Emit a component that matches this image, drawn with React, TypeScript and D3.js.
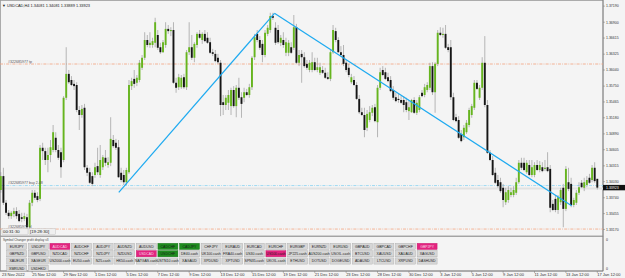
import React from "react";
import * as d3 from "d3";

// OHLC, one per H4 bar (23 Nov 2022 12:00 .. 17 Jan 2023)
const candles: [number, number, number, number][] = [
  [1.3388,1.3420,1.3383,1.3413],[1.3413,1.3428,1.3361,1.3365],[1.3365,1.3370,1.3343,1.3347],[1.3347,1.3352,1.3336,1.3341],
  [1.3341,1.3350,1.3336,1.3347],[1.3345,1.3356,1.3339,1.3350],[1.3350,1.3357,1.3336,1.3341],[1.3345,1.3352,1.3330,1.3332],
  [1.3339,1.3347,1.3330,1.3336],[1.3336,1.3347,1.3332,1.3341],[1.3339,1.3345,1.3318,1.3321],[1.3321,1.3370,1.3318,1.3365],
  [1.3365,1.3388,1.3359,1.3383],[1.3383,1.3388,1.3370,1.3374],[1.3377,1.3384,1.3366,1.3370],[1.3372,1.3469,1.3368,1.3464],
  [1.3464,1.3473,1.3442,1.3458],[1.3458,1.3464,1.3433,1.3442],[1.3442,1.3464,1.3420,1.3451],[1.3451,1.3478,1.3438,1.3465],
  [1.3460,1.3505,1.3456,1.3492],[1.3482,1.3492,1.3456,1.3460],[1.3460,1.3469,1.3442,1.3446],[1.3456,1.3464,1.3410,1.3429],
  [1.3442,1.3557,1.3438,1.3554],[1.3554,1.3645,1.3550,1.3597],[1.3597,1.3604,1.3579,1.3582],[1.3586,1.3593,1.3575,1.3577],
  [1.3579,1.3586,1.3568,1.3575],[1.3577,1.3582,1.3528,1.3532],[1.3532,1.3539,1.3496,1.3523],[1.3523,1.3541,1.3518,1.3534],
  [1.3536,1.3543,1.3424,1.3429],[1.3428,1.3433,1.3413,1.3419],[1.3420,1.3428,1.3399,1.3401],[1.3413,1.3420,1.3395,1.3399],
  [1.3415,1.3437,1.3410,1.3429],[1.3431,1.3464,1.3415,1.3420],[1.3415,1.3469,1.3410,1.3442],[1.3429,1.3451,1.3424,1.3447],
  [1.3446,1.3460,1.3431,1.3437],[1.3433,1.3447,1.3428,1.3438],[1.3437,1.3519,1.3431,1.3480],[1.3478,1.3487,1.3464,1.3467],
  [1.3473,1.3480,1.3460,1.3464],[1.3465,1.3478,1.3410,1.3411],[1.3419,1.3428,1.3402,1.3406],[1.3415,1.3424,1.3397,1.3402],
  [1.3402,1.3428,1.3397,1.3424],[1.3420,1.3586,1.3417,1.3577],[1.3575,1.3590,1.3568,1.3584],[1.3588,1.3604,1.3572,1.3579],
  [1.3581,1.3595,1.3575,1.3590],[1.3586,1.3622,1.3582,1.3617],[1.3608,1.3631,1.3604,1.3626],[1.3626,1.3672,1.3622,1.3658],
  [1.3658,1.3667,1.3645,1.3649],[1.3649,1.3672,1.3644,1.3653],[1.3649,1.3662,1.3644,1.3656],[1.3653,1.3698,1.3645,1.3690],
  [1.3667,1.3676,1.3640,1.3644],[1.3645,1.3653,1.3633,1.3636],[1.3636,1.3658,1.3635,1.3654],[1.3649,1.3690,1.3644,1.3678],
  [1.3678,1.3685,1.3669,1.3674],[1.3674,1.3681,1.3665,1.3676],[1.3676,1.3690,1.3579,1.3581],[1.3581,1.3590,1.3563,1.3572],
  [1.3573,1.3597,1.3568,1.3591],[1.3573,1.3595,1.3570,1.3590],[1.3591,1.3597,1.3570,1.3573],[1.3573,1.3640,1.3568,1.3636],
  [1.3636,1.3690,1.3631,1.3645],[1.3645,1.3667,1.3622,1.3626],[1.3626,1.3654,1.3618,1.3651],[1.3649,1.3672,1.3644,1.3669],
  [1.3669,1.3676,1.3660,1.3662],[1.3658,1.3672,1.3651,1.3669],[1.3669,1.3676,1.3654,1.3656],[1.3662,1.3672,1.3651,1.3653],
  [1.3654,1.3662,1.3633,1.3635],[1.3636,1.3642,1.3629,1.3633],[1.3633,1.3640,1.3618,1.3620],[1.3626,1.3633,1.3615,1.3618],
  [1.3617,1.3622,1.3521,1.3541],[1.3546,1.3559,1.3523,1.3541],[1.3541,1.3559,1.3532,1.3554],[1.3545,1.3568,1.3532,1.3559],
  [1.3539,1.3572,1.3523,1.3568],[1.3568,1.3575,1.3536,1.3539],[1.3539,1.3577,1.3519,1.3572],[1.3572,1.3590,1.3550,1.3554],
  [1.3555,1.3564,1.3518,1.3543],[1.3554,1.3572,1.3546,1.3564],[1.3564,1.3570,1.3557,1.3559],[1.3559,1.3579,1.3554,1.3573],
  [1.3573,1.3629,1.3568,1.3626],[1.3627,1.3669,1.3622,1.3663],[1.3669,1.3676,1.3654,1.3658],[1.3658,1.3665,1.3640,1.3644],
  [1.3651,1.3658,1.3618,1.3631],[1.3631,1.3676,1.3627,1.3671],[1.3669,1.3685,1.3665,1.3680],[1.3676,1.3707,1.3671,1.3701],
  [1.3701,1.3707,1.3694,1.3698],[1.3680,1.3690,1.3649,1.3653],[1.3676,1.3685,1.3651,1.3654],[1.3653,1.3667,1.3647,1.3662],
  [1.3658,1.3672,1.3644,1.3649],[1.3635,1.3662,1.3629,1.3654],[1.3635,1.3658,1.3629,1.3653],[1.3645,1.3654,1.3633,1.3635],
  [1.3644,1.3703,1.3640,1.3681],[1.3681,1.3687,1.3615,1.3617],[1.3617,1.3640,1.3611,1.3631],[1.3633,1.3640,1.3581,1.3627],
  [1.3627,1.3636,1.3608,1.3611],[1.3615,1.3622,1.3604,1.3608],[1.3604,1.3622,1.3600,1.3617],[1.3604,1.3636,1.3600,1.3618],
  [1.3618,1.3626,1.3602,1.3604],[1.3604,1.3626,1.3600,1.3609],[1.3599,1.3617,1.3595,1.3609],[1.3604,1.3611,1.3597,1.3599],
  [1.3599,1.3608,1.3588,1.3590],[1.3591,1.3600,1.3586,1.3588],[1.3588,1.3640,1.3584,1.3636],[1.3636,1.3685,1.3633,1.3676],
  [1.3674,1.3680,1.3654,1.3658],[1.3658,1.3663,1.3635,1.3636],[1.3636,1.3647,1.3629,1.3631],[1.3631,1.3649,1.3611,1.3615],
  [1.3617,1.3622,1.3600,1.3604],[1.3608,1.3615,1.3591,1.3595],[1.3582,1.3597,1.3579,1.3591],[1.3586,1.3593,1.3575,1.3577],
  [1.3577,1.3582,1.3550,1.3552],[1.3552,1.3559,1.3525,1.3528],[1.3528,1.3536,1.3521,1.3523],[1.3523,1.3536,1.3483,1.3496],
  [1.3500,1.3532,1.3494,1.3525],[1.3514,1.3539,1.3510,1.3528],[1.3527,1.3541,1.3521,1.3536],[1.3537,1.3543,1.3510,1.3512],
  [1.3510,1.3577,1.3483,1.3572],[1.3572,1.3608,1.3568,1.3600],[1.3604,1.3611,1.3593,1.3595],[1.3600,1.3608,1.3586,1.3588],
  [1.3591,1.3599,1.3582,1.3584],[1.3586,1.3593,1.3564,1.3566],[1.3568,1.3575,1.3550,1.3554],[1.3555,1.3563,1.3546,1.3548],
  [1.3552,1.3561,1.3545,1.3550],[1.3550,1.3557,1.3543,1.3545],[1.3550,1.3557,1.3528,1.3541],[1.3546,1.3554,1.3528,1.3532],
  [1.3530,1.3550,1.3514,1.3537],[1.3528,1.3552,1.3527,1.3550],[1.3550,1.3555,1.3525,1.3527],[1.3527,1.3550,1.3523,1.3545],
  [1.3532,1.3559,1.3528,1.3555],[1.3563,1.3568,1.3555,1.3557],[1.3559,1.3579,1.3555,1.3573],[1.3568,1.3582,1.3564,1.3577],
  [1.3572,1.3617,1.3568,1.3611],[1.3611,1.3618,1.3559,1.3564],[1.3564,1.3618,1.3527,1.3615],[1.3615,1.3676,1.3611,1.3671],
  [1.3671,1.3681,1.3665,1.3667],[1.3667,1.3680,1.3662,1.3669],[1.3669,1.3685,1.3642,1.3644],[1.3645,1.3651,1.3636,1.3640],
  [1.3645,1.3658,1.3550,1.3555],[1.3555,1.3563,1.3512,1.3514],[1.3519,1.3525,1.3510,1.3512],[1.3514,1.3521,1.3480,1.3482],
  [1.3489,1.3496,1.3474,1.3476],[1.3483,1.3505,1.3478,1.3500],[1.3492,1.3514,1.3489,1.3509],[1.3505,1.3536,1.3501,1.3532],
  [1.3523,1.3543,1.3518,1.3539],[1.3536,1.3586,1.3532,1.3581],[1.3581,1.3586,1.3568,1.3570],[1.3554,1.3577,1.3550,1.3572],
  [1.3572,1.3627,1.3568,1.3617],[1.3617,1.3665,1.3537,1.3541],[1.3541,1.3550,1.3453,1.3455],[1.3455,1.3460,1.3440,1.3442],
  [1.3442,1.3449,1.3413,1.3415],[1.3419,1.3428,1.3399,1.3401],[1.3406,1.3415,1.3392,1.3395],[1.3402,1.3410,1.3383,1.3386],
  [1.3392,1.3399,1.3357,1.3370],[1.3366,1.3392,1.3361,1.3384],[1.3370,1.3395,1.3365,1.3388],[1.3379,1.3392,1.3375,1.3384],
  [1.3379,1.3395,1.3375,1.3388],[1.3383,1.3410,1.3379,1.3402],[1.3402,1.3442,1.3399,1.3437],[1.3437,1.3446,1.3424,1.3428],
  [1.3437,1.3446,1.3422,1.3424],[1.3420,1.3442,1.3417,1.3437],[1.3433,1.3442,1.3413,1.3415],[1.3415,1.3442,1.3411,1.3429],
  [1.3415,1.3438,1.3411,1.3433],[1.3433,1.3442,1.3422,1.3424],[1.3424,1.3440,1.3420,1.3433],[1.3429,1.3438,1.3420,1.3422],
  [1.3426,1.3442,1.3422,1.3428],[1.3429,1.3456,1.3420,1.3422],[1.3426,1.3433,1.3348,1.3356],[1.3363,1.3370,1.3350,1.3352],
  [1.3372,1.3379,1.3348,1.3352],[1.3352,1.3379,1.3345,1.3375],[1.3366,1.3392,1.3361,1.3388],[1.3392,1.3399,1.3321,1.3354],
  [1.3354,1.3431,1.3350,1.3426],[1.3402,1.3428,1.3386,1.3390],[1.3399,1.3410,1.3357,1.3361],[1.3361,1.3374,1.3357,1.3370],
  [1.3365,1.3388,1.3361,1.3383],[1.3383,1.3402,1.3379,1.3393],[1.3401,1.3406,1.3392,1.3393],[1.3392,1.3410,1.3386,1.3402],
  [1.3397,1.3413,1.3393,1.3406],[1.3410,1.3417,1.3399,1.3401],[1.3406,1.3433,1.3402,1.3428],[1.3428,1.3438,1.3401,1.3404],
  [1.34081,1.34081,1.33889,1.33923],
];

const priceTicks = ["1.37190","1.36900","1.36615","1.36325","1.36040","1.35750","1.35465","1.35180","1.34890","1.34605","1.34315","1.34030","1.33740","1.33455","1.33170"];
const firstDateLabel = "23 Nov 2022";
const timeLabels = ["25 Nov 12:00","29 Nov 12:00","1 Dec 12:00","5 Dec 12:00","7 Dec 12:00","9 Dec 12:00","13 Dec 12:00","15 Dec 12:00","19 Dec 12:00","21 Dec 12:00","23 Dec 12:00","28 Dec 12:00","30 Dec 12:00","3 Jan 12:00","5 Jan 12:00","9 Jan 12:00","11 Jan 12:00","13 Jan 12:00","17 Jan 12:00"];
const barsPerLabel = 12;

// trend lines: [barIndex, price] endpoints
const trendLines: [[number, number], [number, number]][] = [
  [[45.1, 1.33839], [104.6, 1.37061]],
  [[104.6, 1.37061], [218.2, 1.33597]],
];
const orderLevels = { tp: 1.36148, buy: 1.33960, sl: 1.33177 };
const bidPrice = 1.33923;
const header = "▼ USDCAD,H4  1.34081 1.34081 1.33889 1.33923";

const buttonRows = [
  ["EURJPY","USDJPY","AUDCAD","AUDCHF","AUDJPY","AUDNZD","AUDUSD","CADCHF","CADJPY","CHFJPY","EURAUD","EURCAD","EURCHF","EURGBP","EURNZD","EURUSD","GBPAUD","GBPCAD","GBPCHF","GBPJPY"],
  ["GBPNZD","GBPUSD","NZDCAD","NZDCHF","NZDJPY","NZDUSD","USDCAD","USDCHF","DE40.cash","UK100.cash","FRA40.cash","US30.cash","US500.cash","JP225.cash","AUS200.cash","USOIL.cash","BTCUSD","XAUUSD","XAUAUD","XAGUSD"],
  ["XAUEUR","XAGEUR","US2000.cash","EU50.cash","N25.cash","HK50.cash","NATGAS.cash","USTN10.cash","XAGAUD","XPDUSD","XPTUSD","SPN35.cash","UKOIL.cash","ETHUSD","DOTUSD","DOGEUSD","ADAUSD","LTCUSD","XRPUSD","DASHUSD"],
  ["XMRUSD","USDHKD"],
];
const pinkSymbols = ["AUDCAD","USDCAD","US500.cash","GBPJPY"];
const greenSymbols = ["CADCHF","CADJPY","USDCHF"];

const FONT = "'Liberation Sans', Arial, sans-serif";

export default function App() {
  const W = 625, H = 278;
  const plotR = 603, mainB = 236, subB = 271;
  const x = d3.scaleLinear().domain([0, candles.length - 1]).range([0.8, 597.3]);
  const y = d3.scaleLinear().domain([1.373, 1.373 - 0.00018 * mainB]).range([0, mainB]);
  const line = d3.line<[number, number]>().x(d => x(d[0])).y(d => y(d[1]));

  const bx0 = 6.7, bPitch = 21.6, bW = 20, by0 = 243.3, byPitch = 7.3, bH = 6.2;

  return (
    <svg width={W} height={H} style={{ position: "fixed", left: 0, top: 0, background: "#f4f4f4" }} fontFamily={FONT}>
      <rect x={0} y={0} width={W} height={H} fill="#f4f4f4" />
      {/* frames */}
      <rect x={0.5} y={0.5} width={plotR - 0.5} height={mainB - 0.5} fill="none" stroke="#9a9a9a" strokeWidth={0.8} />
      <rect x={0.5} y={mainB + 0.5} width={plotR - 0.5} height={subB - mainB - 0.5} fill="none" stroke="#9a9a9a" strokeWidth={0.8} />
      <line x1={plotR} x2={plotR} y1={0} y2={subB} stroke="#777" strokeWidth={0.8} />
      <line x1={0} x2={plotR} y1={subB} y2={subB} stroke="#777" strokeWidth={0.8} />

      <g clipPath="url(#mainclip)">
        <clipPath id="mainclip"><rect x={0} y={0} width={plotR} height={mainB} /></clipPath>
        {/* bid band */}
        <line x1={0} x2={plotR} y1={y(bidPrice) + 0.8} y2={y(bidPrice) + 0.8} stroke="#e2e2e2" strokeWidth={2} />
        {/* order lines */}
        {(["tp", "sl"] as const).map(k => (
          <line key={k} x1={0} x2={plotR} y1={y(orderLevels[k])} y2={y(orderLevels[k])} stroke="#f4a27e" strokeWidth={0.8} strokeDasharray="3,1.2,0.8,1.2" />
        ))}
        <line x1={0} x2={plotR} y1={y(orderLevels.buy)} y2={y(orderLevels.buy)} stroke="#96d6f2" strokeWidth={0.9} strokeDasharray="3,1.2,0.8,1.2" />
        {/* candles */}
        {candles.map(([o, h, l, c], i) => {
          const up = c >= o;
          const top = y(Math.max(o, c)), bot = y(Math.min(o, c));
          return (
            <g key={i}>
              <line x1={x(i)} x2={x(i)} y1={y(h)} y2={y(l)} stroke="#8c8c8c" strokeWidth={0.6} />
              <rect x={x(i) - 0.95} y={top} width={1.9} height={Math.max(0.6, bot - top)} fill={up ? "#66b51e" : "#161616"} />
            </g>
          );
        })}
        {/* trend lines */}
        {trendLines.map((t, i) => (
          <path key={i} d={line(t) || ""} fill="none" stroke="#1eaaf0" strokeWidth={1.2} />
        ))}
        {/* order labels */}
        <text x={8} y={y(orderLevels.tp) - 1} fontSize={3.6} fill="#555">#322685977 tp</text>
        <text x={8} y={y(orderLevels.buy) - 1.2} fontSize={3.6} fill="#555">#322685977 buy 2.48</text>
        <text x={8} y={y(orderLevels.sl) - 1.2} fontSize={3.6} fill="#555">#322685977 sl</text>
      </g>

      {/* header */}
      <text x={2} y={6.5} fontSize={3.9} fill="#222">{header}</text>

      {/* countdown boxes */}
      <rect x={2} y={228.6} width={26} height={5.6} fill="#efefef" stroke="#b8b8b8" strokeWidth={0.4} />
      <rect x={29} y={228.6} width={26.5} height={5.6} fill="#efefef" stroke="#b8b8b8" strokeWidth={0.4} />
      <text x={3} y={233.3} fontSize={4.3} fill="#222">00:31:30</text>
      <text x={30} y={233.3} fontSize={4.3} fill="#222">[19:28:30]</text>

      {/* price axis */}
      {priceTicks.map(t => (
        <g key={t}>
          <line x1={plotR} x2={plotR + 2} y1={y(+t)} y2={y(+t)} stroke="#777" strokeWidth={0.5} />
          <text x={plotR + 3} y={y(+t) + 1.3} fontSize={3.5} fill="#333">{t}</text>
        </g>
      ))}
      <rect x={plotR} y={y(bidPrice) - 2.7} width={W - plotR} height={5.4} fill="#111" />
      <text x={plotR + 3} y={y(bidPrice) + 1.3} fontSize={3.5} fill="#fff">{bidPrice.toFixed(5)}</text>

      {/* sub window */}
      <text x={3} y={240.6} fontSize={3.1} fill="#444">Symbol Changer profit display v3</text>
      <text x={plotR + 3} y={241.3} fontSize={3.5} fill="#333">0</text>
      <text x={plotR + 3} y={269.5} fontSize={3.5} fill="#333">0</text>
      {buttonRows.map((row, r) =>
        row.map((s, i) => {
          const pink = pinkSymbols.includes(s), green = greenSymbols.includes(s);
          const bx = bx0 + i * bPitch, by = by0 + r * byPitch;
          return (
            <g key={s}>
              <rect x={bx} y={by} width={bW} height={bH} fill={pink ? "#e3237f" : green ? "#1f8c1f" : "#d6d6d6"} stroke={pink ? "#c01868" : green ? "#166e16" : "#a8a8a8"} strokeWidth={0.4} />
              <text x={bx + bW / 2} y={by + bH / 2 + 1.25} fontSize={3.5} textAnchor="middle" fill={pink && s !== "US500.cash" ? "#f7d9e6" : "#1a1a1a"}>{s}</text>
            </g>
          );
        })
      )}

      {/* time axis */}
      <text x={2} y={276.3} fontSize={4} fill="#333">{firstDateLabel}</text>
      {timeLabels.map((t, k) => {
        const xi = x((k + 1) * barsPerLabel);
        return (
          <g key={t}>
            <line x1={xi} x2={xi} y1={subB} y2={subB + 2} stroke="#777" strokeWidth={0.5} />
            <text x={xi} y={276.3} fontSize={4} fill="#333">{t}</text>
          </g>
        );
      })}
    </svg>
  );
}
